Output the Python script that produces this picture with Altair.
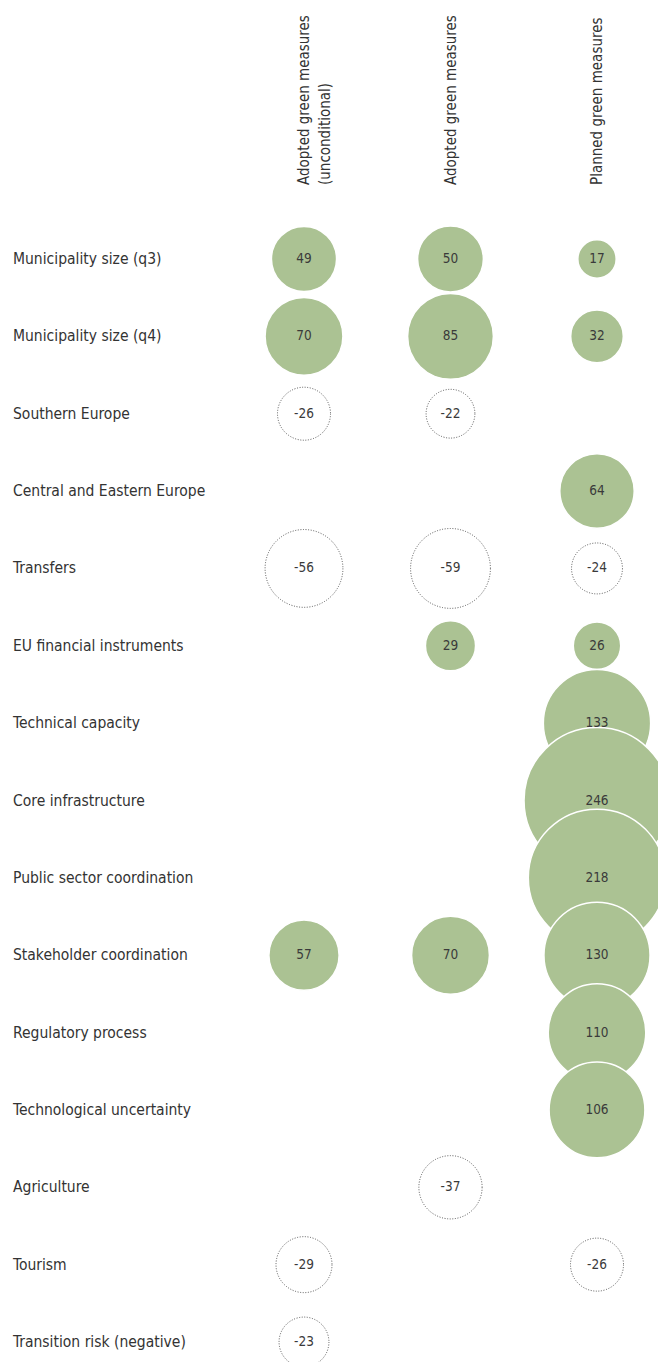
import altair as alt
import pandas as pd

rows = [
    "Municipality size (q3)",
    "Municipality size (q4)",
    "Southern Europe",
    "Central and Eastern Europe",
    "Transfers",
    "EU financial instruments",
    "Technical capacity",
    "Core infrastructure",
    "Public sector coordination",
    "Stakeholder coordination",
    "Regulatory process",
    "Technological uncertainty",
    "Agriculture",
    "Tourism",
    "Transition risk (negative)",
]
cols = ["adopted_uncond", "adopted", "planned"]
col_titles = [
    ["Adopted green measures", "(unconditional)"],
    ["Adopted green measures"],
    ["Planned green measures"],
]

# values per column, None = not shown
adopted_uncond = [49, 70, -26, None, -56, None, None, None, None, 57, None, None, None, -29, -23]
adopted = [50, 85, -22, None, -59, 29, None, None, None, 70, None, None, -37, None, None]
planned = [17, 32, None, 64, -24, 26, 133, 246, 218, 130, 110, 106, None, -26, None]

records = []
for c, series in zip(cols, [adopted_uncond, adopted, planned]):
    for r, v in zip(rows, series):
        if v is not None:
            records.append({"row": r, "col": c, "value": v, "absval": abs(v), "label": str(v)})
order = {r: i for i, r in enumerate(rows)}
df = pd.DataFrame(records)
df["ord"] = df["row"].map(order)
df = df.sort_values(["col", "ord"]).reset_index(drop=True)

rows_df = pd.DataFrame({"row": rows})
head_df = pd.DataFrame({"col": cols, "title": col_titles})

FONT = "Liberation Sans Narrow, DejaVu Sans Condensed, Liberation Sans, sans-serif"
GREEN = "#abc293"

xs = alt.Scale(type="point", domain=cols, range=[296, 589], padding=0)
ys = alt.Scale(type="point", domain=rows, range=[251, 1334], padding=0)

X = alt.X("col:N", scale=xs, axis=None)
Y = alt.Y("row:N", scale=ys, axis=None)

pos = alt.Chart(df).transform_filter("datum.value > 0").mark_circle(
    opacity=1, fill=GREEN, stroke="white", strokeWidth=1.5
).encode(
    x=X, y=Y,
    size=alt.Size("absval:Q", scale=alt.Scale(type="linear", domain=[0, 246], range=[0, 21300]), legend=None),
    order=alt.Order("ord:Q"),
)

neg = alt.Chart(df).transform_filter("datum.value < 0").mark_point(
    shape="circle", filled=False, opacity=1, stroke="#555555", strokeWidth=1, strokeDash=[1, 1.6]
).encode(
    x=X, y=Y,
    size=alt.Size("absval:Q", scale=alt.Scale(type="linear", domain=[0, 246], range=[0, 26600]), legend=None),
)

vals = alt.Chart(df).mark_text(
    font=FONT, fontSize=13.5, color="#3a3a3a", baseline="middle", align="center"
).encode(x=X, y=Y, text=alt.Text("label:N"))

row_labels = alt.Chart(rows_df).mark_text(
    font=FONT, fontSize=15.5, color="#333333", align="left", baseline="middle"
).encode(x=alt.value(5), y=Y, text="row:N")

headers = alt.Chart(head_df).mark_text(
    font=FONT, fontSize=15, color="#333333", align="left", baseline="middle", angle=270, lineHeight=21
).encode(x=X, y=alt.value(177), text="title")

chart = alt.layer(pos, neg, vals, row_labels, headers).resolve_scale(size="independent").properties(
    width=650, height=1354, padding=0, autosize=alt.AutoSizeParams(type="none")
).configure_view(stroke=None)

chart.save("out.html", embed_options={"renderer": "svg", "actions": False})
